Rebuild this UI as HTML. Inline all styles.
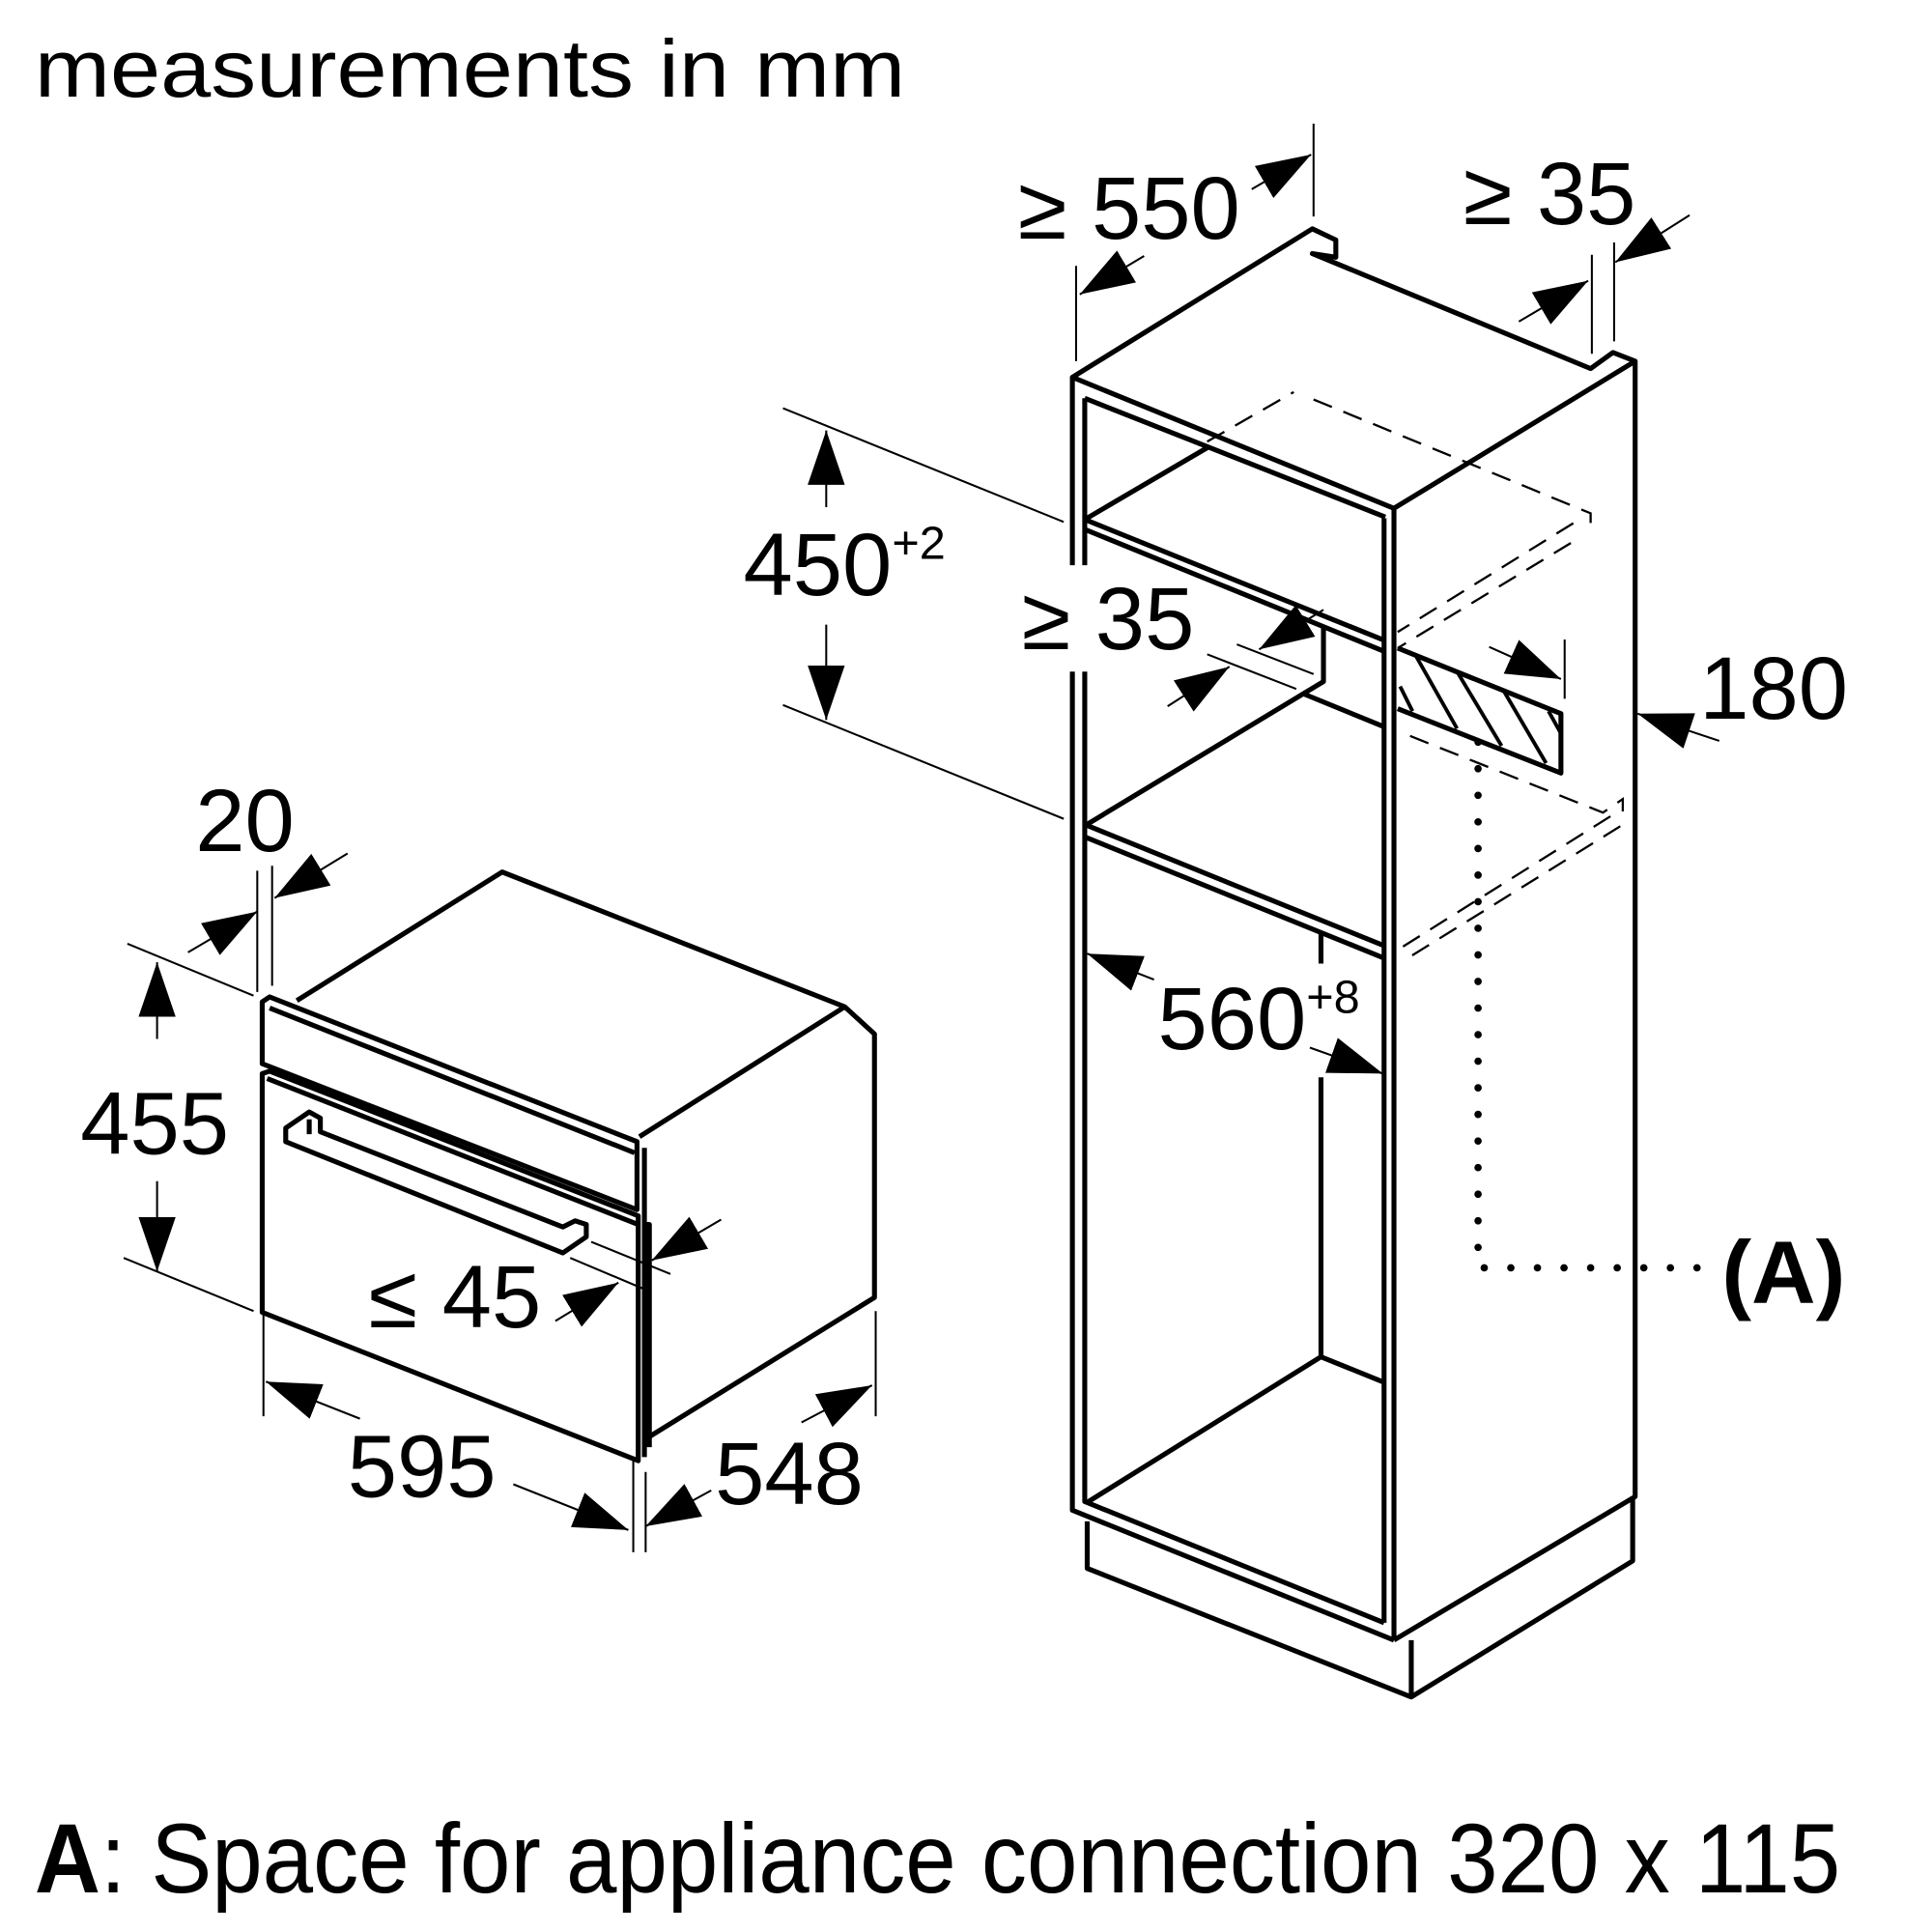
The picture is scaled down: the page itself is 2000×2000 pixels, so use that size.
<!DOCTYPE html>
<html><head><meta charset="utf-8"><style>
html,body{margin:0;padding:0;background:#fff}
svg{display:block}
text{font-family:"Liberation Sans",Arial,sans-serif;fill:#000}
</style></head><body>
<svg width="2000" height="2000" viewBox="0 0 1562 1562" xmlns="http://www.w3.org/2000/svg">
<defs>
<marker id="a" markerUnits="userSpaceOnUse" markerWidth="48" markerHeight="34" refX="44" refY="15" orient="auto">
<path d="M0,0 L44,15 L0,30 Z" fill="#000"/>
</marker>
</defs>
<g fill="none" stroke="#000" stroke-width="4" stroke-linejoin="round">
<path d="M867,305 L1061,185 L1080,194 L1080,208 L1061,205 L1286,298 L1304,285 L1322,292 L1127,411 Z"/>
<path d="M1322,292 L1322,1210 L1127,1326"/>
<path d="M1127,411 L1127,1326"/>
<path d="M1119,419 L1119,1312"/>
<path d="M867,305 L867,457 M877,322 L877,457"/>
<path d="M867,543 L867,1221 L1127,1326 M877,543 L877,1214 L1119,1312"/>
<path d="M877,322 L1120,418"/>
<path d="M877,420 L1120,518 M877,428 L1120,527 M877,420 L976,362"/>
<path d="M1070,507 L1070,551 L878,667 M1054,561 L1120,588"/>
<path d="M878,667 L1120,765 M878,677 L1120,775"/>
<path d="M1068,754 L1068,779 M1068,871 L1068,1097 L1120,1118 M1068,1097 L880,1214"/>
<path d="M1320,1210 L1320,1262 L1141,1372 L879,1268 L879,1230 M1141,1372 L1141,1326"/>
<path d="M1130,524 L1262,577 L1262,625 L1130,573" />
<path d="M1144,529 L1178,589 M1178,543 L1214,603 M1216,559 L1250,617 M1252,575 L1262,593 M1132,555 L1142,575" stroke-width="3"/>
<path d="M240,809 L406,705 L683,814 L517,919 M683,814 L707,836 L707,1049 L521,1164"/>
<path d="M212,810 L218,806 L515,923 L515,978 L212,860 Z M218,815 L513,932"/>
<path d="M212,868 L218,866 L516,983 L516,1181 L212,1061 Z M216,872 L516,990"/>
<path d="M521,928 L521,1178 M521,990 L525,990 L525,1170"/>
<path d="M231,912 L250,899 L259,904 L259,915 L455,992 L465,987 L474,990 L474,1000 L455,1013 L231,923 Z M250,905 L250,917"/>
</g>
<g fill="none" stroke="#000" stroke-width="1.8" stroke-dasharray="16 10">
<path d="M976,357 L1046,317 M1062,323 L1286,415 L1286,427"/>
<path d="M1272,423 L1130,511 M1270,439 L1130,524"/>
<path d="M1140,595 L1296,657 L1312,646 L1312,656"/>
<path d="M1302,660 L1130,768 M1310,668 L1136,776"/>
</g>
<path d="M1195,600 L1195,1025 L1375,1025" fill="none" stroke="#000" stroke-width="6" stroke-linecap="round" stroke-dasharray="0 21.5"/>
<g fill="none" stroke="#000" stroke-width="1.6">
<path d="M870,215 L870,292 M1062,100 L1062,175 M1287,206 L1287,286 M1305,196 L1305,276"/>
<path d="M633,330 L860,422 M633,570 L860,662"/>
<path d="M1000,521 L1062,545 M976,529 L1048,557 M1265,517 L1265,565"/>
<path d="M208,704 L208,802 M220,700 L220,797 M103,763 L205,805 M100,1017 L205,1060"/>
<path d="M478,1004 L542,1030 M461,1017 L525,1044"/>
<path d="M213,1063 L213,1145 M512,1180 L512,1255 M708,1060 L708,1145 M522,1190 L522,1255"/>
</g>
<g fill="none" stroke="#000" stroke-width="1.6" marker-end="url(#a)">
<path d="M925,207 L873,238"/><path d="M1012,153 L1060,125"/>
<path d="M1228,260 L1284,227"/><path d="M1366,174 L1306,212"/>
<path d="M668,410 L668,348"/><path d="M668,505 L668,582"/>
<path d="M1070,493 L1018,525"/><path d="M944,571 L994,539"/>
<path d="M1390,599 L1324,577"/><path d="M1204,523 L1262,549"/>
<path d="M933,792 L879,771"/><path d="M1059,847 L1118,868"/>
<path d="M152,770 L208,737"/><path d="M281,690 L222,726"/>
<path d="M127,840 L127,778"/><path d="M127,955 L127,1028"/>
<path d="M583,986 L527,1019"/><path d="M449,1068 L500,1037"/>
<path d="M291,1147 L215,1117"/><path d="M415,1200 L508,1237"/>
<path d="M648,1150 L705,1120"/><path d="M575,1205 L522,1234"/>
</g>
<text x="28" y="78" font-size="66" textLength="704" lengthAdjust="spacingAndGlyphs">measurements in mm</text>
<text x="823" y="193" font-size="72">≥ 550</text>
<text x="1183" y="181" font-size="72">≥ 35</text>
<text x="601" y="481" font-size="72">450<tspan font-size="38" dy="-29">+2</tspan></text>
<text x="826" y="525" font-size="72">≥ 35</text>
<text x="1374" y="581" font-size="72">180</text>
<text x="936" y="848" font-size="72">560<tspan font-size="38" dy="-29">+8</tspan></text>
<text x="1392" y="1053" font-size="72" font-weight="bold">(A)</text>
<text x="158" y="688" font-size="72">20</text>
<text x="65" y="933" font-size="72">455</text>
<text x="298" y="1073" font-size="72">≤ 45</text>
<text x="281" y="1210" font-size="72">595</text>
<text x="578" y="1216" font-size="72">548</text>
<text x="28" y="1530" font-size="80" textLength="1460" lengthAdjust="spacingAndGlyphs"><tspan font-weight="bold">A</tspan>: Space for appliance connection 320 x 115</text>
</svg>
</body></html>
